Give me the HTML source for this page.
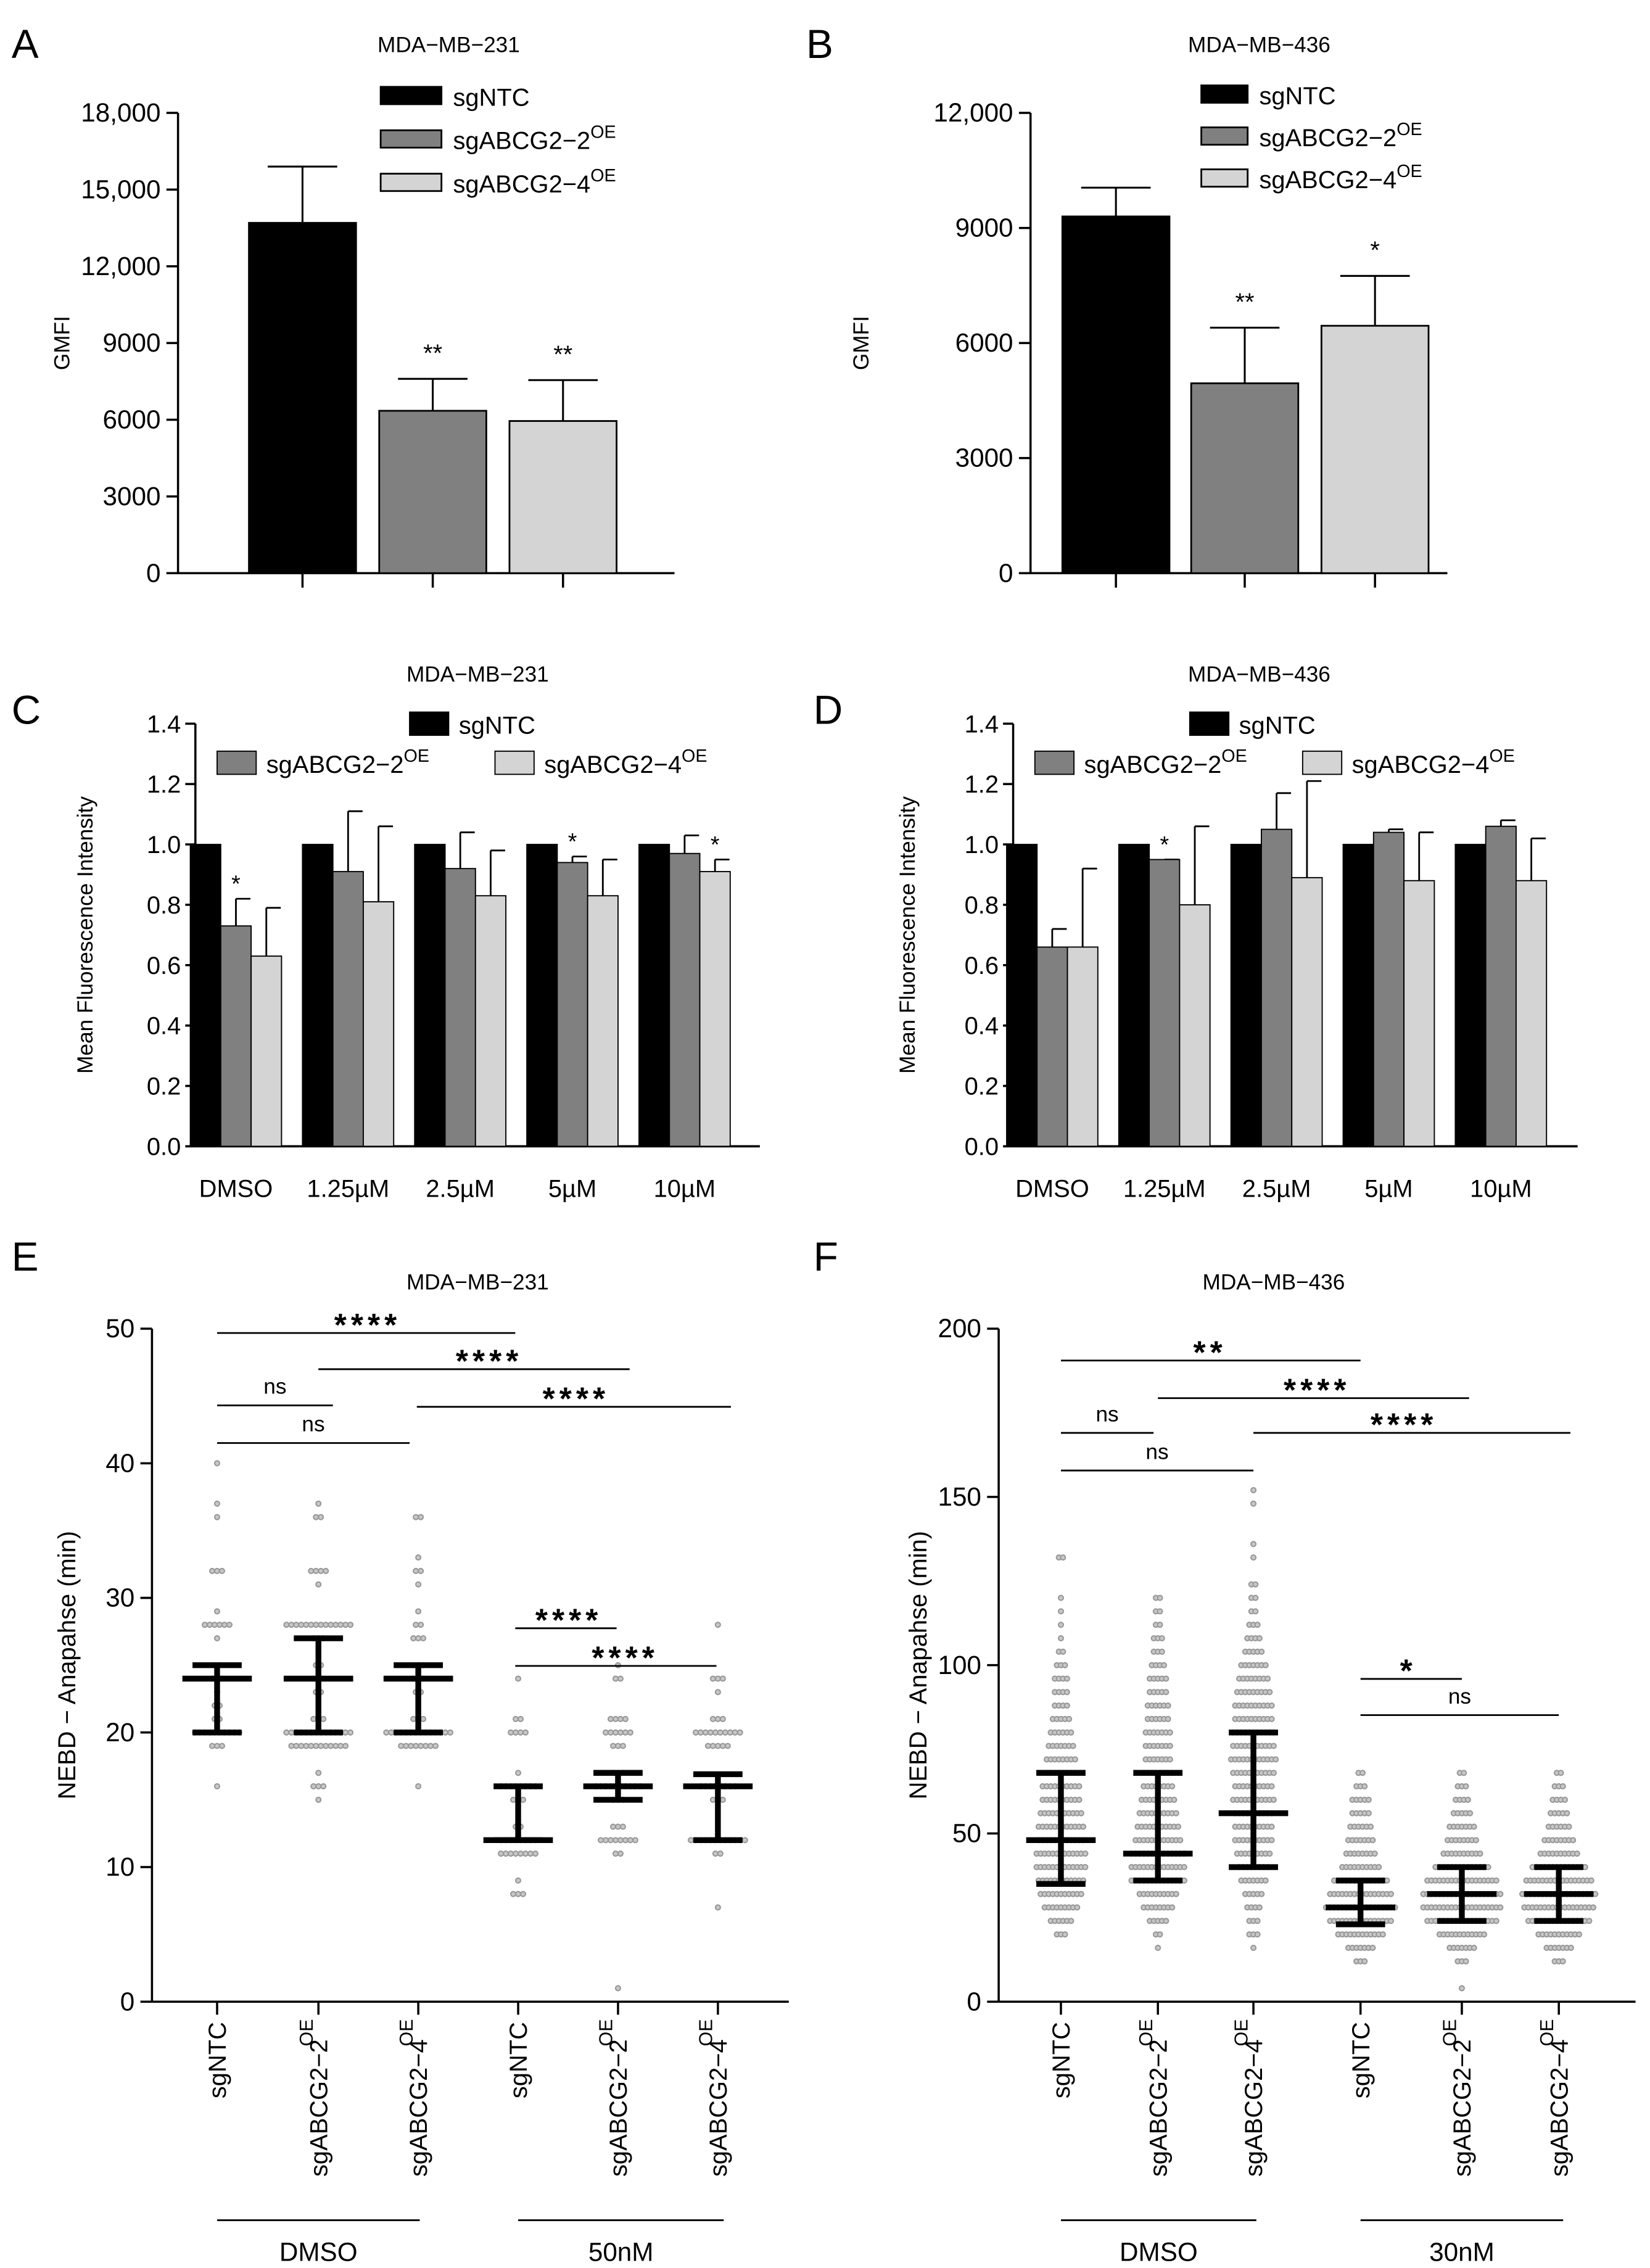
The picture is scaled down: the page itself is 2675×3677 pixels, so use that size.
<!DOCTYPE html>
<html><head><meta charset="utf-8"><style>
html,body{margin:0;padding:0;background:#fff}
svg{display:block}
text{font-family:"Liberation Sans",sans-serif;fill:#000}
</style></head><body>
<svg id="fig" width="2675" height="3677" viewBox="0 0 1140 1567" preserveAspectRatio="none" xmlns="http://www.w3.org/2000/svg"></svg>
<script>
// ---- Panel A data
const aCats=["sgNTC","sgABCG2-2OE","sgABCG2-4OE"];
const aVals=[13700,6350,5950];
const aErr=[15900,7600,7550];
const aSig=["","**","**"];
const aTicks=[0,3000,6000,9000,12000,15000,18000];
const aTickLabels=["0","3000","6000","9000","12,000","15,000","18,000"];
// ---- Panel B data
const bVals=[9300,4950,6450];
const bErr=[10050,6400,7750];
const bSig=["","**","*"];
const bTicks=[0,3000,6000,9000,12000];
const bTickLabels=["0","3000","6000","9000","12,000"];
// ---- Panel C/D data
const cdCats=["DMSO","1.25µM","2.5µM","5µM","10µM"];
const cNTC=[1,1,1,1,1];
const c2=[0.73,0.91,0.92,0.94,0.97];
const c2Err=[0.82,1.11,1.04,0.96,1.03];
const c4=[0.63,0.81,0.83,0.83,0.91];
const c4Err=[0.79,1.06,0.98,0.95,0.95];
const c2Sig=["*","","","*",""];
const c4Sig=["","","","","*"];
const dNTC=[1,1,1,1,1];
const d2=[0.66,0.95,1.05,1.04,1.06];
const d2Err=[0.72,0.95,1.17,1.05,1.08];
const d4=[0.66,0.80,0.89,0.88,0.88];
const d4Err=[0.92,1.06,1.21,1.04,1.02];
const d2Sig=["","*","","",""];
const d4Sig=["","","","",""];
const cdTicks=[0,0.2,0.4,0.6,0.8,1.0,1.2,1.4];
// ---- Panel E data (value:count)
const eDots=[
 [[40,1],[37,1],[36,1],[32,3],[29,1],[28,6],[27,1],[25,2],[24,3],[23,1],[22,2],[21,2],[20,10],[19,3],[16,1]],
 [[37,1],[36,2],[32,4],[31,1],[28,14],[27,3],[25,2],[24,3],[23,2],[21,3],[20,14],[19,12],[17,1],[16,3],[15,1]],
 [[36,2],[33,1],[32,2],[31,1],[29,1],[28,2],[27,3],[25,3],[24,3],[23,2],[21,3],[20,14],[19,8],[16,1]],
 [[24,1],[21,2],[20,4],[17,1],[16,8],[15,3],[13,2],[12,8],[11,8],[9,1],[8,3]],
 [[25,1],[24,2],[21,4],[20,6],[19,3],[17,3],[16,10],[15,3],[13,3],[12,8],[11,2],[1,1]],
 [[28,1],[24,3],[23,1],[21,3],[20,10],[19,5],[16,8],[15,3],[12,12],[11,2],[7,1]]];
const eMed=[24,24,24,12,16,16];
const eLo=[20,20,20,12,15,12];
const eHi=[25,27,25,16,17,16.9];
const eTicks=[0,10,20,30,40,50];
// ---- Panel F data
const fDots=[
 [[132,2],[120,1],[116,1],[112,1],[108,1],[104,2],[100,3],[96,4],[92,4],[88,4],[84,5],[80,6],[76,7],[72,8],[68,8],[64,10],[60,10],[56,11],[52,12],[48,12],[44,13],[40,13],[36,12],[32,11],[28,9],[24,6],[20,3]],
 [[120,2],[116,2],[112,2],[108,3],[104,3],[100,4],[96,5],[92,5],[88,6],[84,6],[80,7],[76,7],[72,7],[68,8],[64,8],[60,9],[56,10],[52,11],[48,12],[44,14],[40,14],[36,14],[32,10],[28,8],[24,5],[20,2],[16,1]],
 [[152,1],[148,1],[136,1],[132,1],[124,2],[120,2],[116,2],[112,3],[108,4],[104,5],[100,7],[96,8],[92,9],[88,10],[84,10],[80,11],[76,11],[72,12],[68,11],[64,10],[60,11],[56,10],[52,10],[48,10],[44,9],[40,8],[36,7],[32,5],[28,4],[24,3],[20,3],[16,1]],
 [[68,2],[64,3],[60,5],[56,5],[52,6],[48,7],[44,8],[40,10],[36,14],[32,16],[28,18],[24,16],[20,12],[16,7],[12,3]],
 [[68,2],[64,3],[60,4],[56,5],[52,7],[48,8],[44,10],[40,14],[36,18],[32,20],[28,20],[24,18],[20,12],[16,7],[12,3],[4,1]],
 [[68,2],[64,3],[60,4],[56,5],[52,6],[48,8],[44,10],[40,14],[36,17],[32,19],[28,18],[24,16],[20,11],[16,7],[12,3]]];
const fMed=[48,44,56,28,32,32];
const fLo=[35,36,40,23,24,24];
const fHi=[68,68,80,36,40,40];
const fTicks=[0,50,100,150,200];
const efCats=["sgNTC","sgABCG2-2","sgABCG2-4","sgNTC","sgABCG2-2","sgABCG2-4"];

const NS="http://www.w3.org/2000/svg";
const svg=document.getElementById('fig');
function el(tag,attrs,parent){const e=document.createElementNS(NS,tag);for(const k in attrs)e.setAttribute(k,attrs[k]);(parent||svg).appendChild(e);return e;}
function line(x1,y1,x2,y2,w,c,p){return el('line',{x1,y1,x2,y2,stroke:c||'#000','stroke-width':w||1.5},p);}
function txt(x,y,s,size,anchor,p,extra){const t=el('text',Object.assign({x,y,'font-size':size,'text-anchor':anchor||'middle'},extra||{}),p);t.textContent=s;return t;}
function sup(x,y,base,supS,size,anchor,p){const t=el('text',{x,y,'font-size':size,'text-anchor':anchor||'start'},p);t.textContent=base;const s=el('tspan',{dy:-size*0.45,'font-size':size*0.72},t);s.textContent=supS;return t;}

function barPanel(o){
 const g=el('g',{});
 
 
 const y=v=>o.y0-(v/o.max)*(o.y0-o.yTop);
 txt(o.letterX,40,o.letter,28,'start',g);
 txt(o.titleX,36,o.title,15,'middle',g);
 line(o.ax,o.yTop,o.ax,o.y0,1.5,'#000',g);
 line(o.ax-8,o.y0,o.axEnd,o.y0,1.5,'#000',g);
 o.ticks.forEach((t,i)=>{line(o.ax-8,y(t),o.ax,y(t),1.5,'#000',g);
  const tl=txt(o.ax-12,y(t)+6,o.tickLabels[i],18,'end',g);
  });
 const yl=txt(0,0,'GMFI',15,'middle',g,{transform:`translate(${o.ylabX},${(o.y0+o.yTop)/2}) rotate(-90)`});
 
 const fills=['#000','#808080','#d4d4d4'];
 o.vals.forEach((v,i)=>{
  const cx=o.cx[i];
  line(cx,y(v),cx,y(o.err[i]),1.3,'#000',g);
  line(cx-24,y(o.err[i]),cx+24,y(o.err[i]),1.3,'#000',g);
  const r=el('rect',{x:cx-o.bw/2,y:y(v),width:o.bw,height:o.y0-y(v),fill:fills[i],stroke:'#000','stroke-width':1.2},g);
  
  
  line(cx,o.y0,cx,o.y0+10,1.5,'#000',g);
  if(o.sig[i]){const s=txt(cx,y(o.err[i])-12,o.sig[i],17,'middle',g);}
 });
 const labs=[['sgNTC',''],['sgABCG2\u22122','OE'],['sgABCG2\u22124','OE']];
 labs.forEach((l,i)=>{
  const ly=o.legY+i*o.legDy;
  const lg=el('g',{},g);
  
  
  el('rect',{x:o.legX,y:ly-6,width:o.legW,height:12,fill:fills[i],stroke:'#000','stroke-width':1.2},lg);
  sup(o.legX+o.legW+8,ly+7,l[0],l[1],17,'start',lg);
 });
}
barPanel({name:'panel-a',letter:'A',letterX:8,title:'MDA\u2212MB\u2212231',titleX:310,ax:123,axEnd:466,y0:396,yTop:78,max:18000,
 ticks:aTicks,tickLabels:aTickLabels,ylabX:48,vals:aVals,err:aErr,sig:aSig,cx:[209,299,389],bw:74,legX:263,legW:42,legY:66,legDy:30});
barPanel({name:'panel-b',letter:'B',letterX:557,title:'MDA\u2212MB\u2212436',titleX:870,ax:712,axEnd:1000,y0:396,yTop:78,max:12000,
 ticks:bTicks,tickLabels:bTickLabels,ylabX:600,vals:bVals,err:bErr,sig:bSig,cx:[771,860,950],bw:74,legX:830,legW:32,legY:65,legDy:29});

function groupPanel(o){
 const g=el('g',{});
 
 
 const y=v=>o.y0-(v/1.4)*(o.y0-o.yTop);
 txt(o.letterX,500,o.letter,28,'start',g);
 txt(o.titleX,471,o.title,15,'middle',g);
 line(o.ax,o.yTop,o.ax,o.y0,1.5,'#000',g);
 line(o.ax,o.y0,o.axEnd,o.y0,1.5,'#000',g);
 cdTicks.forEach(t=>{line(o.ax-7,y(t),o.ax,y(t),1.5,'#000',g);
  const tl=txt(o.ax-10,y(t)+6,t.toFixed(1),17,'end',g);});
 const yl=txt(0,0,'Mean Fluorescence Intensity',15,'middle',g,{transform:`translate(${o.ylabX},${(o.y0+o.yTop)/2}) rotate(-90)`});
 
 const fills=['#000','#808080','#d4d4d4'];
 const bw=21;
 cdCats.forEach((c,i)=>{
  const gx=o.gx0+i*o.gdx;
  const series=[[o.ntc[i],null,''],[o.s2[i],o.e2[i],o.sig2[i]],[o.s4[i],o.e4[i],o.sig4[i]]];
  series.forEach((s,j)=>{
   const x=gx+(j-1)*bw;
   if(s[1]!=null){line(x,y(s[0]),x,y(s[1]),1.2,'#000',g);line(x,y(s[1]),x+10,y(s[1]),1.2,'#000',g);}
   const r=el('rect',{x:x-bw/2,y:y(s[0]),width:bw,height:o.y0-y(s[0]),fill:fills[j],stroke:'#000','stroke-width':0.8},g);
   
   
   if(s[2]){txt(x,y(s[1])-5,s[2],16,'middle',g);}
  });
  const xl=txt(gx,o.y0+35,c,17,'middle',g);
 });
 const leg=[[o.l0x,500,'sgNTC',''],[o.l1x,527,'sgABCG2\u22122','OE'],[o.l2x,527,'sgABCG2\u22124','OE']];
 leg.forEach((l,i)=>{const lg=el('g',{},g);
  
  
  el('rect',{x:l[0],y:l[1]-8,width:27,height:16,fill:fills[i],stroke:'#000','stroke-width':0.8},lg);
  sup(l[0]+34,l[1]+7,l[2],l[3],17,'start',lg);});
}
groupPanel({name:'panel-c',letter:'C',letterX:8,title:'MDA\u2212MB\u2212231',titleX:330,ax:135,axEnd:525,y0:792,yTop:500,ylabX:64,
 gx0:163,gdx:77.5,ntc:cNTC,s2:c2,e2:c2Err,s4:c4,e4:c4Err,sig2:c2Sig,sig4:c4Sig,l0x:283,l1x:150,l2x:342});
groupPanel({name:'panel-d',letter:'D',letterX:562,title:'MDA\u2212MB\u2212436',titleX:870,ax:700,axEnd:1090,y0:792,yTop:500,ylabX:632,
 gx0:727,gdx:77.5,ntc:dNTC,s2:d2,e2:d2Err,s4:d4,e4:d4Err,sig2:d2Sig,sig4:d4Sig,l0x:822,l1x:715,l2x:900});

function scatterPanel(o){
 const g=el('g',{});
 
 
 const y=v=>o.y0-(v/o.max)*(o.y0-o.yTop);
 txt(o.letterX,878,o.letter,28,'start',g);
 txt(o.titleX,891,o.title,15,'middle',g);
 line(o.ax,o.yTop,o.ax,o.y0,1.5,'#000',g);
 line(o.ax,o.y0,o.axEnd,o.y0,1.5,'#000',g);
 o.ticks.forEach(t=>{line(o.ax-8,y(t),o.ax,y(t),1.5,'#000',g);
  const tl=txt(o.ax-12,y(t)+6,String(t),18,'end',g);});
 const yl=txt(0,0,'NEBD \u2212 Anapahse (min)',17,'middle',g,{transform:`translate(${o.ylabX},${(o.y0+o.yTop)/2}) rotate(-90)`});
 
 o.dots.forEach((grp,i)=>{
  const cx=o.gx[i];
  grp.forEach(([v,n])=>{
   for(let k=0;k<n;k++){
    const off=(k-(n-1)/2)*o.sp;
    const c=el('circle',{cx:cx+off,cy:y(v),r:1.7,fill:'#c8c8c8',stroke:'#999','stroke-width':0.9},g);
    
    
   }
  });
 });
 o.dots.forEach((_,i)=>{
  const cx=o.gx[i];
  const eg=el('g',{},g);
  
  
  line(cx,y(o.lo[i]),cx,y(o.hi[i]),4,'#000',eg);
  line(cx-24,y(o.med[i]),cx+24,y(o.med[i]),4,'#000',eg);
  line(cx-17,y(o.lo[i]),cx+17,y(o.lo[i]),4,'#000',eg);
  line(cx-17,y(o.hi[i]),cx+17,y(o.hi[i]),4,'#000',eg);
  line(cx,o.y0,cx,o.y0+9,1.5,'#000',g);
  const base=efCats[i];
  const lab=el('text',{x:0,y:0,'font-size':17,'text-anchor':'end',transform:`translate(${cx+6},${o.y0+14}) rotate(-90)`},g);
  
  
  lab.textContent='sgNTC';
  if(base!=='sgNTC'){lab.textContent='sgABCG2\u2212'+base.slice(-1);
   const s=el('text',{x:0,y:0,'font-size':13,'text-anchor':'end',transform:`translate(${cx-4},${o.y0+12}) rotate(-90)`},g);s.textContent='OE';
   
   lab.setAttribute('transform',`translate(${cx+6},${o.y0+26}) rotate(-90)`);}
 });
 o.sigs.forEach(s=>{const sg=el('g',{},g);
  
  
  line(s[0],s[2],s[1],s[2],1.2,'#000',sg);
  const isStar=s[3]!=='ns';
  txt(s[4]!=null?s[4]:(s[0]+s[1])/2,s[2]-(isStar?-2:8),s[3],isStar?22:15,'middle',sg,isStar?{'font-weight':'bold','letter-spacing':'3'}:{});});
 o.groups.forEach(gr=>{const gg=el('g',{},g);
  
  
  line(gr[0],1534,gr[1],1534,1.2,'#000',gg);txt((gr[0]+gr[1])/2,1562,gr[2],18,'middle',gg);});
}
scatterPanel({name:'panel-e',letter:'E',letterX:8,title:'MDA\u2212MB\u2212231',titleX:330,ax:105,axEnd:545,y0:1383,yTop:918,max:50,ticks:eTicks,ylabX:52,
 gx:[150,220,289,358,427,496],dots:eDots,med:eMed,lo:eLo,hi:eHi,sp:3.4,
 sigs:[[150,356,921,'****',254],[220,435,946,'****',338],[288,505,972,'****',398],[150,230,971,'ns'],[150,283,997,'ns'],[356,426,1125,'****',393],[356,495,1151,'****',432]],
 groups:[[150,290,'DMSO'],[358,500,'50nM']]});
scatterPanel({name:'panel-f',letter:'F',letterX:562,title:'MDA\u2212MB\u2212436',titleX:880,ax:690,axEnd:1130,y0:1383,yTop:918,max:200,ticks:fTicks,ylabX:640,
 gx:[733,800,866,940,1010,1077],dots:fDots,med:fMed,lo:fLo,hi:fHi,sp:2.8,
 sigs:[[733,940,940,'**',836],[800,1015,966,'****',910],[866,1085,990,'****',970],[733,797,990,'ns'],[733,866,1016,'ns'],[940,1010,1160,'*',973],[940,1077,1185,'ns']],
 groups:[[733,868,'DMSO'],[940,1080,'30nM']]});
</script>
</body></html>
